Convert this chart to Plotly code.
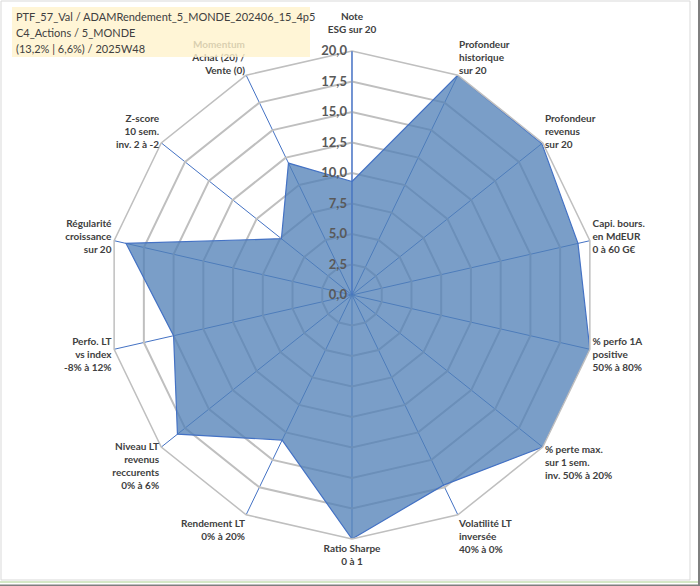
import plotly.graph_objects as go

# ------------------------------------------------------------
# Données du radar (notes ramenées sur 20)
# ------------------------------------------------------------
criteres = [
    "Note<br>ESG sur 20",
    "Profondeur<br>historique<br>sur 20",
    "Profondeur<br>revenus<br>sur 20",
    "Capi. bours.<br>en MdEUR<br>0 à 60 G€",
    "% perfo 1A<br>positive<br>50% à 80%",
    "% perte max.<br>sur 1 sem.<br>inv. 50% à 20%",
    "Volatilité LT<br>inversée<br>40% à 0%",
    "Ratio Sharpe<br>0 à 1",
    "Rendement LT<br>0% à 20%",
    "Niveau LT<br>revenus<br>reccurents<br>0% à 6%",
    "Perfo. LT<br>vs index<br>-8% à 12%",
    "Régularité<br>croissance<br>sur 20",
    "Z-score<br>10 sem.<br>inv. 2 à -2",
    "Momentum<br>Achat (20) /<br>Vente (0)",
]
notes = [9.3, 20.0, 19.9, 19.0, 20.0, 20.0, 17.3, 20.0, 13.2, 18.3, 15.0, 19.0, 7.4, 12.0]

titre = [
    "PTF_57_Val / ADAMRendement_5_MONDE_202406_15_4p5",
    "C4_Actions / 5_MONDE",
    "(13,2% | 6,6%) / 2025W48",
]

W, H = 700, 586


def gras(txt):
    # met chaque ligne en gras (libellés d'axes)
    return "<br>".join(f"<b>{l}</b>" for l in txt.split("<br>"))


etiquettes = [gras(c) for c in criteres]
# l'étiquette du haut est décalée d'une ligne vers le haut, comme dans Excel
etiquettes[0] += "<br> "

# ------------------------------------------------------------
# Figure
# ------------------------------------------------------------
fig = go.Figure()

fig.add_trace(go.Scatterpolar(
    r=notes + notes[:1],
    theta=criteres + criteres[:1],
    mode="lines",
    fill="toself",
    fillcolor="rgba(80,127,183,0.76)",
    line=dict(color="#4472C4", width=1.2),
    hoverinfo="r+theta",
    showlegend=False,
))

fig.update_layout(
    width=W,
    height=H,
    margin=dict(l=0, r=0, t=0, b=0),
    paper_bgcolor="white",
    separators=", ",
    font=dict(family="Lato, DejaVu Sans, sans-serif", color="#404040"),
    polar=dict(
        domain=dict(x=[0.1543, 0.8514], y=[0.0802, 0.9130]),
        bgcolor="white",
        gridshape="linear",
        radialaxis=dict(
            range=[0, 20],
            dtick=2.5,
            tickformat=".1f",
            angle=90,
            tickangle=90,
            side="counterclockwise",
            showline=True,
            linecolor="#4472C4",
            linewidth=1,
            gridcolor="#BFBFBF",
            gridwidth=1.5,
            ticks="",
            tickfont=dict(size=13, color="#595959"),
            tickprefix="<b>", ticksuffix="</b>",
        ),
        angularaxis=dict(
            direction="clockwise",
            rotation=90,
            showline=True,
            linecolor="#BFBFBF",
            linewidth=1.5,
            gridcolor="#4472C4",
            gridwidth=1,
            ticks="",
            tickvals=criteres,
            ticktext=etiquettes,
            tickfont=dict(size=10, color="#404040"),
        ),
    ),
)

# cadre du graphique
fig.add_shape(type="rect", xref="paper", yref="paper",
              x0=1 / W, y0=6 / H, x1=690 / W, y1=585 / H,
              line=dict(color="#D9D9D9", width=1))
fig.add_shape(type="line", xref="paper", yref="paper",
              x0=0, y0=4 / H, x1=1, y1=4 / H,
              line=dict(color="#A9D18E", width=1))
fig.add_shape(type="line", xref="paper", yref="paper",
              x0=0, y0=0.5 / H, x1=1, y1=0.5 / H,
              line=dict(color="#7F7F7F", width=2))
fig.add_shape(type="line", xref="paper", yref="paper",
              x0=699 / W, y0=0, x1=699 / W, y1=1,
              line=dict(color="#7F7F7F", width=2))

# cartouche titre (fond semi-transparent qui recouvre "Momentum")
fig.add_shape(type="rect", xref="paper", yref="paper", layer="above",
              x0=12 / W, y0=1 - 57 / H, x1=310 / W, y1=1 - 7 / H,
              fillcolor="rgba(255,242,204,0.8)", line=dict(width=0))
for i, ligne in enumerate(titre):
    fig.add_annotation(
        text=ligne,
        xref="paper", yref="paper",
        x=14 / W, y=1 - (17 + 15.5 * i) / H, xanchor="left", yanchor="middle",
        align="left", showarrow=False,
        font=dict(size=11, color="#404040", family="Lato, DejaVu Sans, sans-serif"),
    )

fig.write_html("out.html", config={"displayModeBar": False},
               post_script="document.body.style.margin='0';")
